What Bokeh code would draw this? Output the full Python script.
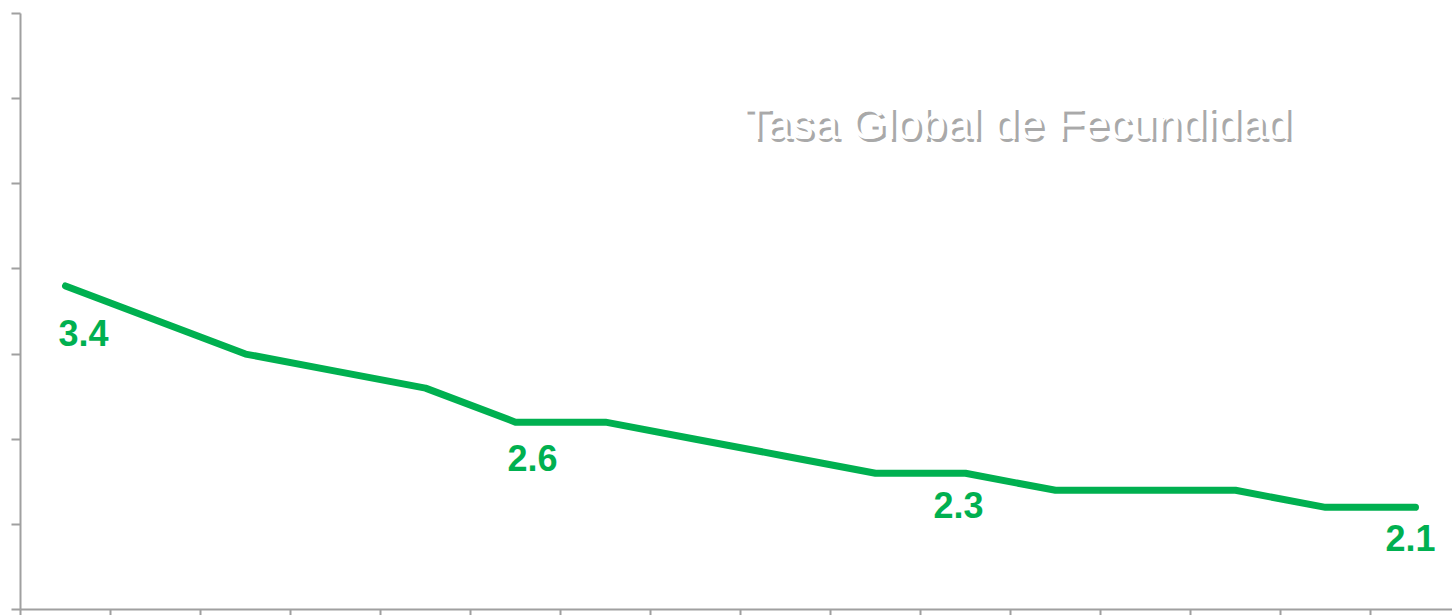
from bokeh.plotting import figure
from bokeh.models import Range1d, FixedTicker, ColumnDataSource
from bokeh.core.properties import value
from bokeh.embed import file_html
from bokeh.resources import INLINE

# Data
periods = list(range(16))
tgf = [3.4, 3.2, 3.0, 2.9, 2.8, 2.6, 2.6, 2.5, 2.4, 2.3, 2.3, 2.2, 2.2, 2.2, 2.1, 2.1]
label_idx = [0, 5, 10, 15]
label_text = ["3.4", "2.6", "2.3", "2.1"]
title_text = "Tasa Global de Fecundidad"

# styling offsets for the labels (pixels)
label_dx = [18, 17, -7, -5]
label_dy = [47, 36, 32, 31]

GREEN = "#00B050"
GREY = "#a0a0a0"

x_pts = [i + 0.5 for i in periods]

p = figure(width=1452, height=615, output_backend="svg", toolbar_location=None,
           x_range=Range1d(0, 1432 / 90), y_range=Range1d(1.5, 5.0),
           min_border_left=20, min_border_right=0, min_border_top=13, min_border_bottom=5)
p.outline_line_color = None
p.grid.visible = False
p.background_fill_color = "white"

for ax in (p.xaxis[0], p.yaxis[0]):
    ax.axis_line_color = GREY
    ax.axis_line_width = 2
    ax.major_tick_line_color = GREY
    ax.major_tick_line_width = 2
    ax.minor_tick_line_color = None
    ax.major_tick_in = 0
    ax.major_label_text_font_size = "1px"
    ax.major_label_text_color = None
    ax.major_label_standoff = 0
p.yaxis[0].major_tick_out = 9
p.xaxis[0].major_tick_out = 6
p.yaxis[0].ticker = FixedTicker(ticks=[1.5, 2.0, 2.5, 3.0, 3.5, 4.0, 4.5, 5.0])
p.xaxis[0].ticker = FixedTicker(ticks=list(range(16)))

src = ColumnDataSource(dict(x=x_pts, y=tgf))
p.line("x", "y", source=src, line_color=GREEN, line_width=7,
       line_cap="round", line_join="round")

lsrc = ColumnDataSource(dict(
    x=[x_pts[i] for i in label_idx],
    y=[tgf[i] for i in label_idx],
    t=label_text, dx=label_dx, dy=label_dy))
p.text("x", "y", text="t", source=lsrc, x_offset="dx", y_offset="dy",
       text_color=GREEN, text_font=value("Liberation Sans"), text_font_style="bold",
       text_font_size="36px", text_align="center", text_baseline="alphabetic")

# title with shadow
tx, ty = 8.033, 4.354
p.text(x=[tx], y=[ty], text=[title_text], x_offset=3, y_offset=3,
       text_color="#9a9a9a", text_alpha=0.85, text_font=value("Liberation Sans"),
       text_font_size="45px", text_align="left", text_baseline="alphabetic")
p.text(x=[tx], y=[ty], text=[title_text],
       text_color="white", text_font=value("Liberation Sans"),
       text_font_size="45px", text_align="left", text_baseline="alphabetic")

open("out.html", "w").write(file_html(p, INLINE))
